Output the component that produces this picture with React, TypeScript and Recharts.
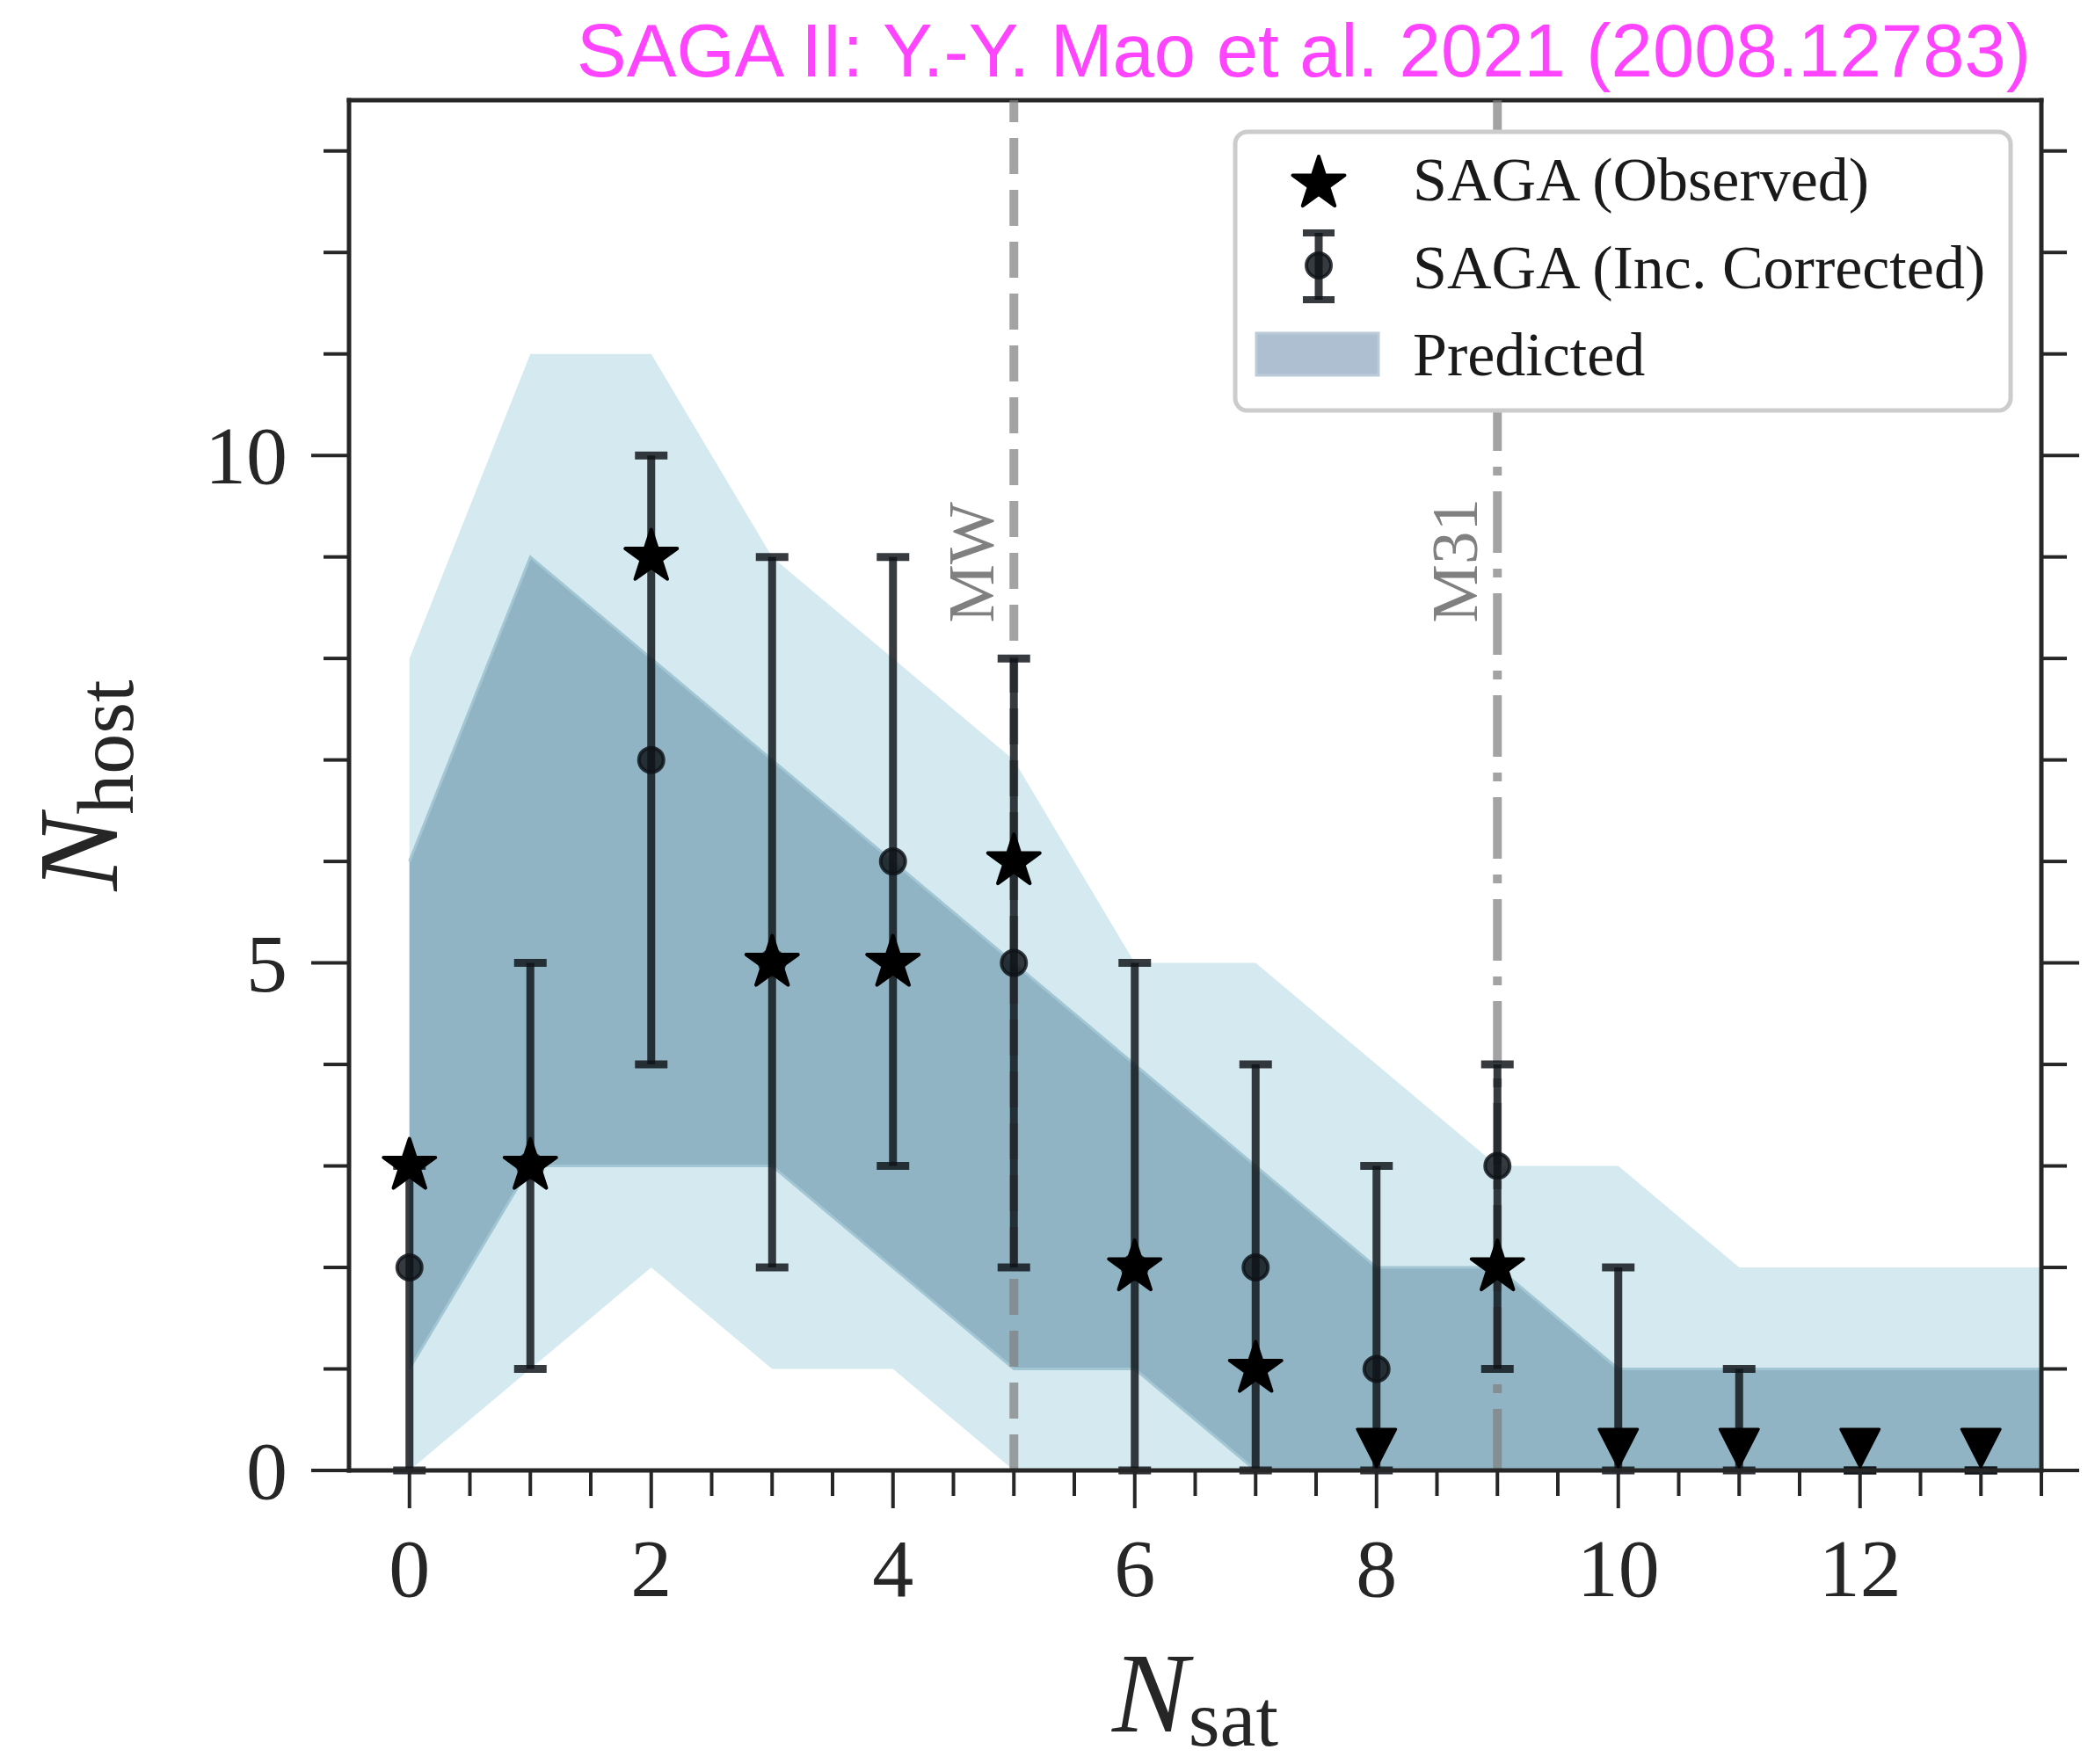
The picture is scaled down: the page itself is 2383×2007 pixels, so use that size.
import React from "react";
import {
  ComposedChart,
  Area,
  Scatter,
  ErrorBar,
  XAxis,
  YAxis,
  ReferenceLine,
  Legend,
} from "recharts";

// predicted band, sampled at each N_sat (last entry carries the band to the frame edge)
const bandX = [0, 1, 2, 3, 4, 5, 6, 7, 8, 9, 10, 11, 12, 13, 13.5];
const outerUpper = [8, 11, 11, 9, 8, 7, 5, 5, 4, 3, 3, 2, 2, 2, 2];
const outerLower = [0, 1, 2, 1, 1, 0, 0, 0, 0, 0, 0, 0, 0, 0, 0];
const innerUpper = [6, 9, 8, 7, 6, 5, 4, 3, 2, 2, 1, 1, 1, 1, 1];
const innerLower = [1, 3, 3, 3, 2, 1, 1, 0, 0, 0, 0, 0, 0, 0, 0];

// SAGA hosts per satellite count
const nSat = [0, 1, 2, 3, 4, 5, 6, 7, 8, 9, 10, 11, 12, 13];
const observed = [3, 3, 9, 5, 5, 6, 2, 1, 0, 2, 0, 0, 0, 0];
const corrected = [2, 3, 7, 5, 6, 5, 2, 2, 1, 3, 0, 0, 0, 0];
const correctedLow = [0, 1, 4, 2, 3, 2, 0, 0, 0, 1, 0, 0, 0, 0];
const correctedHigh = [3, 5, 10, 9, 9, 8, 5, 4, 3, 4, 2, 1, 0, 0];

const hostLines = [
  { x: 5, y: 8.35, text: "MW" },
  { x: 9, y: 8.35, text: "M31" },
];

const xMajorTicks = [0, 2, 4, 6, 8, 10, 12];
const xTicks = [0, 0.5, 1, 1.5, 2, 2.5, 3, 3.5, 4, 4.5, 5, 5.5, 6, 6.5, 7, 7.5, 8, 8.5, 9, 9.5, 10, 10.5, 11, 11.5, 12, 12.5, 13, 13.5];
const yMajorTicks = [0, 5, 10];
const yTicks = [0, 1, 2, 3, 4, 5, 6, 7, 8, 9, 10, 11, 12, 13];
const yMax = 13.5;

const bandData = bandX.map((x, i) => ({
  x,
  outer: [outerLower[i], outerUpper[i]],
  inner: [innerLower[i], innerUpper[i]],
}));

const correctedData = nSat.map((x, i) => ({
  x,
  y: corrected[i],
  err: [corrected[i] - correctedLow[i], correctedHigh[i] - corrected[i]],
}));

const observedData = nSat.map((x, i) => ({ x, y: observed[i] }));
const detections = observedData.filter((d) => d.y > 0);
const upperLimits = observedData.filter((d) => d.y === 0);

const SERIF = "'Liberation Serif', 'Times New Roman', serif";
const INK = "#262626";
const BAR = "rgba(14,19,24,0.83)";

function starPolygon(cx: number, cy: number, R: number) {
  const r = R * 0.381966;
  const pts: string[] = [];
  for (let k = 0; k < 10; k++) {
    const a = -Math.PI / 2 + (k * Math.PI) / 5;
    const rad = k % 2 === 0 ? R : r;
    pts.push(`${cx + rad * Math.cos(a)},${cy + rad * Math.sin(a)}`);
  }
  return pts.join(" ");
}

const StarMark = (props: any) => {
  const { cx, cy } = props;
  return (
    <polygon
      points={starPolygon(cx, cy, 31)}
      fill="#000"
      stroke="#000"
      strokeWidth={4}
      strokeLinejoin="round"
    />
  );
};

const LimitMark = (props: any) => {
  const { cx, cy } = props;
  const tip = cy - 4;
  return (
    <polygon
      points={`${cx - 22},${tip - 43} ${cx + 22},${tip - 43} ${cx},${tip}`}
      fill="#000"
      stroke="#000"
      strokeWidth={3}
      strokeLinejoin="round"
    />
  );
};

const DotMark = (props: any) => {
  const { cx, cy, payload } = props;
  if (!payload || payload.y === 0) return <g />;
  return <circle cx={cx} cy={cy} r={14} fill={BAR} stroke={BAR} strokeWidth={4} />;
};

const LineLabel = (props: any) => {
  const { cx, cy, payload } = props;
  const bx = cx - 23;
  return (
    <text
      x={bx}
      y={cy}
      transform={`rotate(-90 ${bx} ${cy})`}
      textAnchor="start"
      fontFamily={SERIF}
      fontSize={75}
      fill="#808080"
    >
      {payload.text}
    </text>
  );
};

const XTick = (props: any) => {
  const { x, y, payload } = props;
  const major = xMajorTicks.includes(payload.value);
  return (
    <g>
      <line x1={x} y1={y} x2={x} y2={y + (major ? 43 : 29)} stroke={INK} strokeWidth={4} />
      {major && (
        <text x={x} y={y + 143} textAnchor="middle" fontFamily={SERIF} fontSize={94} fill={INK}>
          {payload.value}
        </text>
      )}
    </g>
  );
};

const YTickLeft = (props: any) => {
  const { x, y, payload } = props;
  const major = yMajorTicks.includes(payload.value);
  return (
    <g>
      <line x1={x} y1={y} x2={x - (major ? 43 : 29)} y2={y} stroke={INK} strokeWidth={4} />
      {major && (
        <text x={x - 70} y={y} dy="0.34em" textAnchor="end" fontFamily={SERIF} fontSize={94} fill={INK}>
          {payload.value}
        </text>
      )}
    </g>
  );
};

const YTickRight = (props: any) => {
  const { x, y, payload } = props;
  const major = yMajorTicks.includes(payload.value);
  return <line x1={x} y1={y} x2={x + (major ? 43 : 29)} y2={y} stroke={INK} strokeWidth={4} />;
};

const XTitle = (props: any) => {
  const vb = props.viewBox;
  return (
    <text x={vb.x + vb.width / 2} y={vb.y + 297} textAnchor="middle" fontFamily={SERIF} fontSize={130} fill={INK}>
      <tspan fontStyle="italic">N</tspan>
      <tspan fontSize={92} dy={16}>sat</tspan>
    </text>
  );
};

const YTitle = (props: any) => {
  const vb = props.viewBox;
  const cx = 133;
  const cy = vb.y + vb.height / 2;
  return (
    <text
      x={cx}
      y={cy}
      transform={`rotate(-90 ${cx} ${cy})`}
      textAnchor="middle"
      fontFamily={SERIF}
      fontSize={130}
      fill={INK}
    >
      <tspan fontStyle="italic">N</tspan>
      <tspan fontSize={92} dy={18}>host</tspan>
    </text>
  );
};

const Caption = (props: any) => {
  const vb = props.viewBox;
  return (
    <text
      x={vb.x + vb.width - 12}
      y={vb.y - 27}
      textAnchor="end"
      fontFamily="'Liberation Sans', Arial, Helvetica, sans-serif"
      fontSize={85}
      fill="#ff44ff"
    >
      SAGA II: Y.-Y. Mao et al. 2021 (2008.12783)
    </text>
  );
};

const LegendBox = () => (
  <svg width={888} height={323} style={{ display: "block" }}>
    <rect x={3} y={3} width={882} height={317} rx={14} fill="#fff" stroke="#cccccc" strokeWidth={5} />
    <polygon points={starPolygon(98, 62, 31)} fill="#000" stroke="#000" strokeWidth={4} strokeLinejoin="round" />
    <line x1={98} y1={118} x2={98} y2={194} stroke={BAR} strokeWidth={9} />
    <line x1={80} y1={118} x2={116} y2={118} stroke={BAR} strokeWidth={8} />
    <line x1={80} y1={194} x2={116} y2={194} stroke={BAR} strokeWidth={8} />
    <circle cx={98} cy={155} r={14} fill={BAR} stroke={BAR} strokeWidth={4} />
    <rect x={27} y={232} width={139} height={48} fill="#adbfd0" stroke="#bccbd9" strokeWidth={3} />
    <g fontFamily={SERIF} fontSize={70} fill="#1a1a1a">
      <text x={205} y={81}>SAGA (Observed)</text>
      <text x={205} y={181}>SAGA (Inc. Corrected)</text>
      <text x={205} y={280}>Predicted</text>
    </g>
  </svg>
);

const axisLine = { stroke: INK, strokeWidth: 5, strokeLinecap: "square" as const };

export default function App() {
  return (
    <div style={{ position: "absolute", left: 0, top: 0, width: 2383, height: 2007, background: "#fff" }}>
      <ComposedChart
        width={2383}
        height={2007}
        data={bandData}
        margin={{ top: 114, right: 0, bottom: 0, left: 0 }}
      >
        <XAxis
          dataKey="x"
          type="number"
          domain={[-0.5, 13.5]}
          allowDataOverflow
          ticks={xTicks}
          interval={0}
          tickSize={0}
          tickMargin={0}
          tickLine={false}
          tick={(p: any) => <XTick {...p} />}
          axisLine={axisLine}
          height={334}
          label={{ content: (p: any) => <XTitle {...p} /> }}
        />
        <YAxis
          type="number"
          domain={[0, yMax]}
          allowDataOverflow
          ticks={yTicks}
          interval={0}
          tickSize={0}
          tickMargin={0}
          tickLine={false}
          tick={(p: any) => <YTickLeft {...p} />}
          axisLine={axisLine}
          width={397}
          label={{ content: (p: any) => <YTitle {...p} /> }}
        />
        <YAxis
          yAxisId="right"
          orientation="right"
          type="number"
          domain={[0, yMax]}
          allowDataOverflow
          ticks={yTicks}
          interval={0}
          tickSize={0}
          tickMargin={0}
          tickLine={false}
          tick={(p: any) => <YTickRight {...p} />}
          axisLine={axisLine}
          width={61}
        />

        <Area
          dataKey="outer"
          type="linear"
          fill="#d4eaf0"
          fillOpacity={1}
          stroke="none"
          dot={false}
          activeDot={false}
          isAnimationActive={false}
        />
        <Area
          dataKey="inner"
          type="linear"
          fill="#91b4c5"
          fillOpacity={1}
          stroke="#a2c6d3"
          strokeWidth={3}
          dot={false}
          activeDot={false}
          isAnimationActive={false}
        />

        {/* top spine of the frame, carrying the citation caption */}
        <ReferenceLine
          y={yMax}
          stroke={INK}
          strokeWidth={5}
          strokeLinecap="square"
          label={{ content: (p: any) => <Caption {...p} /> }}
        />

        <ReferenceLine x={5} stroke="rgba(128,128,128,0.72)" strokeWidth={10} strokeDasharray="41 18" />
        <ReferenceLine x={9} stroke="rgba(128,128,128,0.72)" strokeWidth={10} strokeDasharray="70 18 10 18" />

        <Scatter data={hostLines} dataKey="y" shape={(p: any) => <LineLabel {...p} />} isAnimationActive={false} />

        <Scatter data={correctedData} dataKey="y" shape={(p: any) => <DotMark {...p} />} isAnimationActive={false}>
          <ErrorBar dataKey="err" direction="y" width={18.5} strokeWidth={9} stroke={BAR} isAnimationActive={false} />
        </Scatter>
        <Scatter data={detections} dataKey="y" shape={(p: any) => <StarMark {...p} />} isAnimationActive={false} />
        <Scatter data={upperLimits} dataKey="y" shape={(p: any) => <LimitMark {...p} />} isAnimationActive={false} />

        <Legend
          layout="horizontal"
          verticalAlign="middle"
          align="center"
          width={888}
          height={323}
          wrapperStyle={{ left: 1402, top: 147, width: 888, height: 323 }}
          content={() => <LegendBox />}
        />
      </ComposedChart>
    </div>
  );
}
